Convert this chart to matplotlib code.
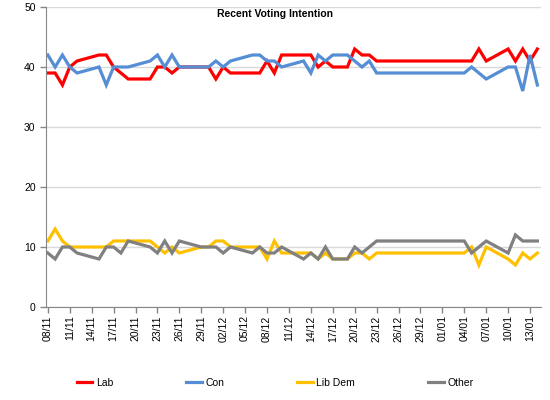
import pandas as pd
import matplotlib
matplotlib.use('Agg')
import matplotlib.pyplot as plt

# Poll dates (weekdays, plus one Sunday poll) and party shares in %
datas = [
    '2010-11-08', '2010-11-09', '2010-11-10', '2010-11-11', '2010-11-12',
    '2010-11-15', '2010-11-16', '2010-11-17', '2010-11-18', '2010-11-19',
    '2010-11-22', '2010-11-23', '2010-11-24', '2010-11-25', '2010-11-26',
    '2010-11-29', '2010-11-30', '2010-12-01', '2010-12-02', '2010-12-03',
    '2010-12-06', '2010-12-07', '2010-12-08', '2010-12-09', '2010-12-10',
    '2010-12-13', '2010-12-14', '2010-12-15', '2010-12-16', '2010-12-17', '2010-12-19',
    '2010-12-20', '2010-12-21', '2010-12-22', '2010-12-23',
    '2011-01-04', '2011-01-05', '2011-01-06', '2011-01-07',
    '2011-01-10', '2011-01-11', '2011-01-12', '2011-01-13', '2011-01-14',
]

lab = [39, 39, 37, 40, 41,
       42, 42, 40, 39, 38,
       38, 40, 40, 39, 40,
       40, 40, 38, 40, 39,
       39, 39, 41, 39, 42,
       42, 42, 40, 41, 40, 40,
       43, 42, 42, 41,
       41, 41, 43, 41,
       43, 41, 43, 41, 43]

con = [42, 40, 42, 40, 39,
       40, 37, 40, 40, 40,
       41, 42, 40, 42, 40,
       40, 40, 41, 40, 41,
       42, 42, 41, 41, 40,
       41, 39, 42, 41, 42, 42,
       41, 40, 41, 39,
       39, 40, 39, 38,
       40, 40, 36, 42, 37]

libDem = [11, 13, 11, 10, 10,
          10, 10, 11, 11, 11,
          11, 10, 9, 10, 9,
          10, 10, 11, 11, 10,
          10, 10, 8, 11, 9,
          9, 9, 8, 9, 8, 8,
          9, 9, 8, 9,
          9, 10, 7, 10,
          8, 7, 9, 8, 9]

other = [9, 8, 10, 10, 9,
         8, 10, 10, 9, 11,
         10, 9, 11, 9, 11,
         10, 10, 10, 9, 10,
         9, 10, 9, 9, 10,
         8, 9, 8, 10, 8, 8,
         10, 9, 10, 11,
         11, 9, 10, 11,
         9, 12, 11, 11, 11]

partidos = ['Lab', 'Con', 'Lib Dem', 'Other']
cores = ['#FF0000', '#558ED5', '#FFC000', '#808080']

plt.rcParams['font.family'] = ['Liberation Sans', 'DejaVu Sans']

def criarGrafico():
    datasConv = pd.to_datetime(datas)
    series = [lab, con, libDem, other]

    fig = plt.figure(figsize=(5.5, 4), dpi=100)
    ax = fig.add_axes([46 / 550, 93 / 400, 495 / 550, 300 / 400])

    for valores, nome, cor in zip(series, partidos, cores):
        ax.plot(datasConv, valores, color=cor, linewidth=2.3, label=nome,
                solid_joinstyle='miter')

    ax.set_ylim(0, 50)
    ax.set_yticks(range(0, 51, 10))
    ax.set_xlim(pd.Timestamp('2010-11-07 18:00'), pd.Timestamp('2011-01-14 12:00'))

    ticks = pd.date_range('2010-11-08', '2011-01-13', freq='3D')
    ax.set_xticks(ticks)
    ax.set_xticklabels([t.strftime('%d/%m') for t in ticks], rotation=90)

    ax.grid(axis='y', color='#D9D9D9', linewidth=1)
    ax.set_axisbelow(True)
    for lado in ['top', 'right']:
        ax.spines[lado].set_visible(False)
    for lado in ['left', 'bottom']:
        ax.spines[lado].set_color('#868686')
    ax.tick_params(axis='both', colors='#868686', labelcolor='black', labelsize=7.5,
                   length=4, width=1)
    ax.tick_params(axis='x', pad=2)

    fig.text(0.5, 1 - 14 / 400, 'Recent Voting Intention', ha='center', va='center',
             fontsize=7.5, fontweight='bold')

    fig.legend(loc='center', bbox_to_anchor=(0.5, 1 - 383 / 400), ncol=4, frameon=False,
               fontsize=7.5, handlelength=1.5, handletextpad=0.35, columnspacing=7.0)

    fig.savefig('out.png', dpi=100)

if __name__ == "__main__":
    criarGrafico()
